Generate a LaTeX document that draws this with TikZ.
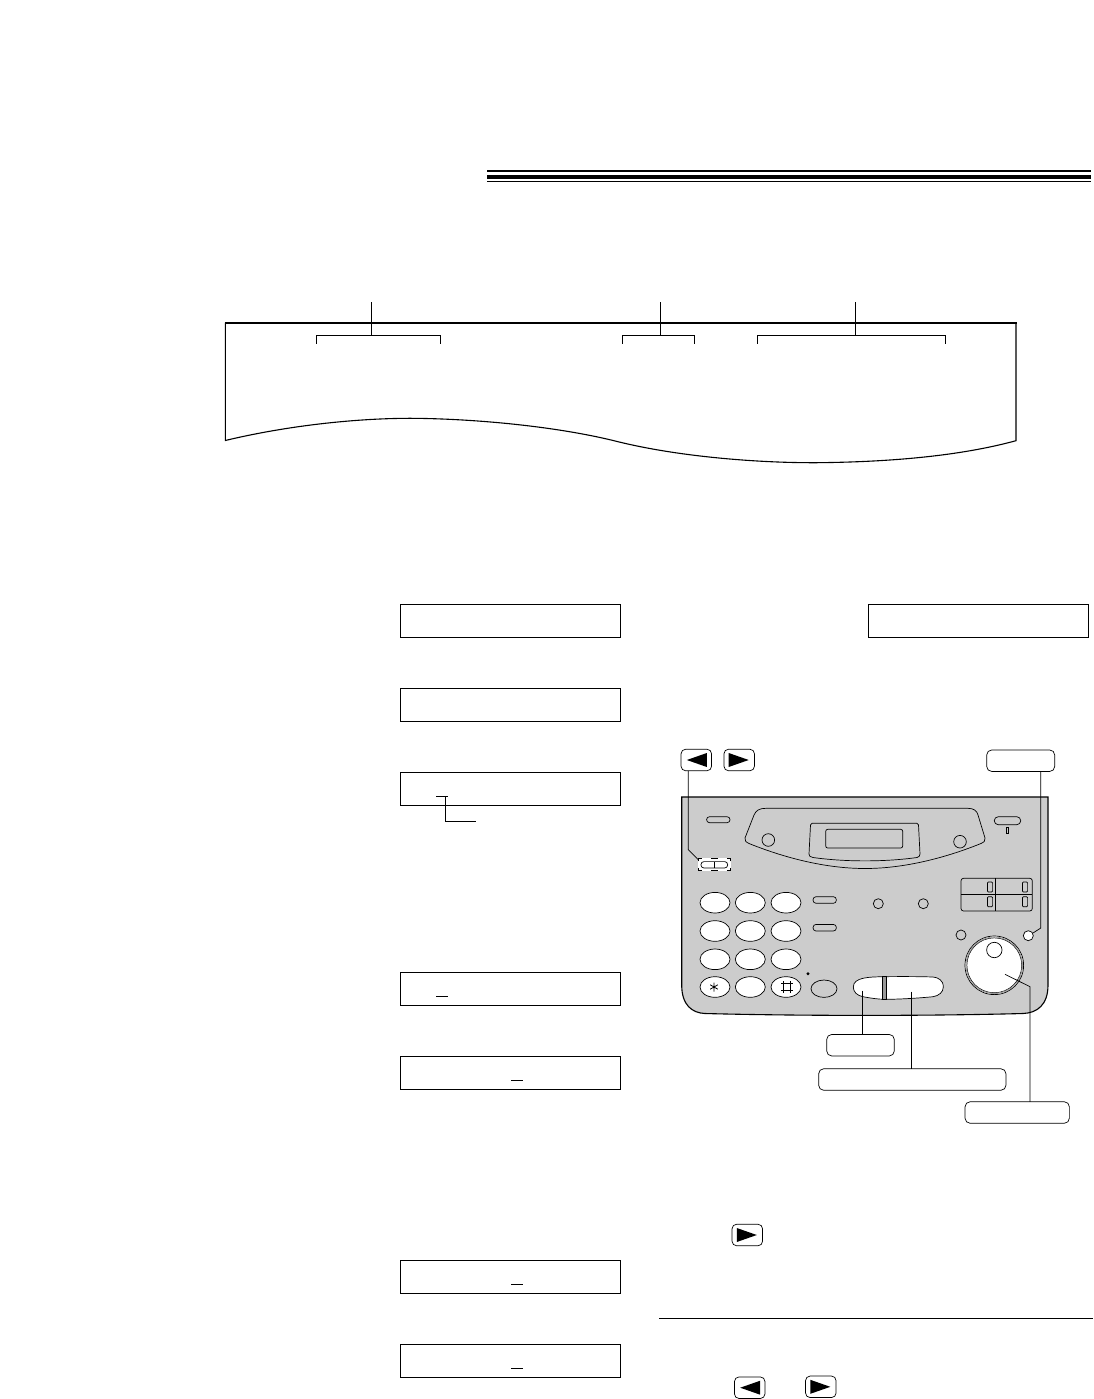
\documentclass[tikz,border=0pt]{standalone}
\usepackage{tikz}
\usetikzlibrary{positioning,calc,shapes.geometric}
\definecolor{panelgray}{HTML}{CCCCCC}
\definecolor{ringgray}{HTML}{999999}
\tikzset{
  lcdbox/.style={draw, line width=1pt, minimum width=220pt, minimum height=33.4pt, inner sep=0pt, outer sep=0pt},
  lblbox/.style={draw, fill=white, line width=0.7pt, rounded corners=5pt, minimum height=21.5pt, inner sep=0pt, outer sep=0pt},
  arrowkey/.style={lblbox, minimum width=30.5pt, rounded corners=4.5pt},
  dialkey/.style={ellipse, draw, fill=white, line width=0.7pt, minimum width=30pt, minimum height=20.6pt, inner sep=0pt, outer sep=0pt},
  slimkey/.style={draw, fill=panelgray, line width=0.7pt, rounded corners=3pt, inner sep=0pt, outer sep=0pt},
  lamp/.style={circle, draw, line width=0.7pt, minimum size=10pt, inner sep=0pt, outer sep=0pt},
  leader/.style={line width=0.7pt},
  cursorline/.style={line width=1pt}
}
\begin{document}
\begin{tikzpicture}[x=1pt, y=-1pt]
    \useasboundingbox (0,0) rectangle (1093,1399);

    % heading rule
    \fill (487,170) rectangle (1091,172);
    \fill (487,175) rectangle (1091,179);
    \fill (487,181) rectangle (1091,182);

    % sheet
    \draw[line width=1.1pt] (225.3,323) -- (225.3,440.5) .. controls (290,425) and (360,418) .. (414,418.3)
      .. controls (480,419) and (560,427) .. (618,441.7) .. controls (680,457) and (760,463) .. (817,462.7)
      .. controls (890,462) and (960,456) .. (1016,440.7) -- (1016,323);
    \draw[line width=2.4pt] (224.5,323) -- (1016.5,323);
    \foreach \first/\last/\stem in {316/440/371, 622/694/660, 757/945/855} {
      \draw[line width=0.8pt] (\first,343.5) -- (\first,335) -- (\last,335) -- (\last,343.5);
      \draw[line width=0.7pt] (\stem,302) -- (\stem,335);
    }

    % display boxes
    \node[lcdbox] (lcdA) at (510.5,621) {};
    \node[lcdbox] (lcdB) at (510.5,705) {};
    \node[lcdbox] (lcdC) at (510.5,789) {};
    \node[lcdbox] (lcdD) at (510.5,989) {};
    \node[lcdbox] (lcdE) at (510.5,1073) {};
    \node[lcdbox] (lcdF) at (510.5,1277) {};
    \node[lcdbox] (lcdG) at (510.5,1361) {};
    \node[lcdbox] (lcdH) at (978,621) {};
    \draw[cursorline] ([xshift=35.5pt,yshift=-7pt]lcdC.west) -- ++(12,0);
    \draw[cursorline] ([xshift=45pt,yshift=-7pt]lcdC.west) |- ([xshift=75.5pt,yshift=-32pt]lcdC.west);
    \foreach \lcd/\off in {lcdD/35.5, lcdE/110.5, lcdF/110.5, lcdG/110.5}
      \draw[cursorline] ([xshift=\off pt,yshift=-7pt]\lcd.west) -- ++(12,0);

    % panel
    \draw[fill=panelgray, line width=1.1pt] (681.7,797) -- (681.7,985) .. controls (681.7,1005) and (692,1013) .. (705,1013.5)
      .. controls (800,1016) and (930,1016) .. (1023,1013.5) .. controls (1037,1013) and (1048,1005) .. (1048,985) -- (1048,797) -- cycle;
    \node[slimkey, minimum width=23.5pt, minimum height=6pt] (memoKey) at (718.3,819.7) {};
    \node[slimkey, minimum width=26.5pt, minimum height=8pt, rounded corners=4pt] (autoKey) at (1007.5,820.7) {};
    \node[draw, line width=0.7pt, minimum width=2.6pt, minimum height=6pt, inner sep=0pt] (autoLed) at (1007.3,830.7) {};

    % display hood
    \draw[line width=0.7pt] (745,838) -- (754,815) .. controls (756,810) and (760,808.3) .. (766,808.3) -- (968,808.3)
      .. controls (974,808.3) and (977,811) .. (978,815) -- (985,838) .. controls (985.5,841) and (984,842) .. (981,843.5)
      .. controls (940,860) and (900,868.5) .. (865,868.5) .. controls (830,868.5) and (790,860) .. (749,843.5)
      .. controls (746,842) and (744.5,841) .. (745,838) -- cycle;
    \draw[line width=0.7pt] (812,823.3) -- (917,823.3) .. controls (918,823.3) and (918.5,824) .. (918.5,825) -- (920,854)
      .. controls (920,856) and (919,857) .. (917,857.5) .. controls (885,862) and (845,862) .. (813,857.5)
      .. controls (810,857) and (809,856) .. (809,854) -- (810.5,825) .. controls (810.5,824) and (811,823.3) .. (812,823.3) -- cycle;
    \draw[line width=0.7pt, rounded corners=2pt] (825.7,829.3) rectangle (902.7,848);
    \node[lamp, minimum size=12.6pt] (hoodLampL) at (768.3,840) {};
    \node[lamp, minimum size=12.6pt] (hoodLampR) at (960,841.7) {};

    % arrow pair on panel
    \node[fill=white, minimum width=32.5pt, minimum height=12.5pt, inner sep=0pt, outer sep=0pt] (navGuard) at (714.5,864.5) {};
    \draw[line width=0.7pt] ([yshift=-3pt]navGuard.north west) |- ([xshift=4pt]navGuard.north west);
    \draw[line width=0.7pt] ([yshift=-3pt]navGuard.north east) |- ([xshift=-4pt]navGuard.north east);
    \draw[line width=0.7pt] ([yshift=3pt]navGuard.south west) |- ([xshift=4pt]navGuard.south west);
    \draw[line width=0.7pt] ([yshift=3pt]navGuard.south east) |- ([xshift=-4pt]navGuard.south east);
    \draw[line width=0.7pt] ([xshift=-3.5pt]navGuard.north) -- ([xshift=3.5pt]navGuard.north);
    \draw[line width=0.7pt] ([xshift=-3.5pt]navGuard.south) -- ([xshift=3.5pt]navGuard.south);
    \node[slimkey, fill=white, minimum width=26.7pt, minimum height=6.4pt] (navKey) at (714.3,864.8) {};
    \draw[line width=0.7pt] (navKey.south) -- (navKey.north);

    % keypad
    \foreach \row/\cy in {1/902.7, 2/931, 3/959.3, 4/987}
      \foreach \col/\cx in {1/715, 2/750.3, 3/786}
        \node[dialkey] (key\row\col) at (\cx,\cy) {};
    \draw[line width=0.8pt] (714,982.5) -- (714,991.5) (710.2,984.8) -- (717.8,989.2) (710.2,989.2) -- (717.8,984.8);
    \draw[line width=0.8pt] (783.3,981) -- (783.3,993) (790,981) -- (790,993) (781,983.7) -- (792.5,983.7) (781,990.3) -- (792.5,990.3);
    \node[slimkey, minimum width=23.3pt, minimum height=6.6pt] (sideKeyA) at (824.7,900) {};
    \node[slimkey, minimum width=23.3pt, minimum height=6.6pt] (sideKeyB) at (824.7,927.7) {};
    \fill (808,973.7) circle (1.6);
    \node[ellipse, draw, line width=0.7pt, minimum width=26pt, minimum height=17.4pt, inner sep=0pt, outer sep=0pt] (pauseKey) at (824,988.7) {};
    \node[lamp] (lampA) at (878.3,903.7) {};
    \node[lamp] (lampB) at (923.3,903.7) {};
    \node[lamp] (lampC) at (961,935) {};
    \node[lamp, fill=white] (lampD) at (1028.3,935.7) {};

    % one touch grid
    \draw[line width=0.7pt, rounded corners=2.5pt] (961,878.3) rectangle (1032.3,911);
    \draw[line width=0.7pt] (961,894.3) -- (1032.3,894.3) (995.7,878.3) -- (995.7,911);
    \foreach \cx/\cy in {990/887, 1025/887, 990/901.7, 1025/901.7}
      \draw[line width=0.7pt, rounded corners=1pt] (\cx-2.6,\cy-5) rectangle (\cx+2.6,\cy+5);

    % dial
    \node[circle, draw, fill=white, line width=0.7pt, minimum size=58.6pt, inner sep=0pt, outer sep=0pt] (knob) at (994.3,965.3) {};
    \draw[ringgray, line width=0.8pt] (knob.center) circle (28.3);
    \draw[line width=0.5pt] (knob.center) circle (27.4);
    \node[circle, draw, line width=0.7pt, minimum size=15.4pt, inner sep=0pt, outer sep=0pt] (knobDot) at (994.3,950) {};

    % start and stop bar
    \draw[fill=white, line width=0.7pt] (883,976.7) .. controls (870,977) and (853.3,977) .. (853.3,987)
      .. controls (853.3,992) and (857,995.5) .. (863,996.7) .. controls (870,998) and (878,999.3) .. (885,999.3)
      .. controls (900,999.3) and (920,998) .. (933,996.7) .. controls (939,995.8) and (943.3,992) .. (943.3,987)
      .. controls (943.3,980) and (938,977.5) .. (933,977) .. controls (918,976.5) and (900,976.5) .. (883,976.7) -- cycle;
    \draw[fill=ringgray, line width=0.7pt] (882.3,976.7) rectangle (886.7,999.3);

    % key pictures and labels
    \node[arrowkey] (keyPrev) at (696.3,760) {};
    \node[arrowkey] (keyNext) at (739.2,760) {};
    \node[lblbox, minimum width=68pt] (lblLamp) at (1020.7,760.7) {};
    \node[lblbox, minimum width=67.6pt] (lblStop) at (860.5,1045.2) {};
    \node[lblbox, minimum width=187.3pt] (lblStart) at (912.3,1079.5) {};
    \node[lblbox, minimum width=104.3pt] (lblDial) at (1017.2,1112.5) {};
    \node[arrowkey] (keyNextA) at (747.3,1235) {};
    \node[arrowkey] (keyPrevB) at (749.7,1387.7) {};
    \node[arrowkey] (keyNextB) at (820.8,1386.8) {};
    \foreach \key in {keyPrev, keyPrevB}
      \fill ([xshift=10.5pt,yshift=7pt]\key.center) -- ([xshift=-9.5pt]\key.center) -- ([xshift=10.5pt,yshift=-7pt]\key.center) -- cycle;
    \foreach \key in {keyNext, keyNextA, keyNextB}
      \fill ([xshift=-10.5pt,yshift=7pt]\key.center) -- ([xshift=9.5pt]\key.center) -- ([xshift=-10.5pt,yshift=-7pt]\key.center) -- cycle;

    % leaders
    \coordinate (stopSpot) at (862.3,990.7);
    \coordinate (startSpot) at (911.3,991.7);
    \coordinate (dialSpot) at (1005,974.3);
    \coordinate (dialBend) at (1030,986.7);
    \draw[leader] ([xshift=-8pt]keyPrev.south) -- ++(0,79) -- ([yshift=-1.5pt]navGuard.north west);
    \draw[leader] ([xshift=20pt]lblLamp.south) -- ++(0,156.6) -- (lampD.30);
    \draw[leader] (stopSpot) -- (stopSpot |- lblStop.north);
    \draw[leader] (startSpot) -- (startSpot |- lblStart.north);
    \draw[leader] (dialSpot) -- (dialBend) -- (dialBend |- lblDial.north);

    % rule above last step
    \draw[line width=1pt] (659,1318) -- (1093,1318);
  \end{tikzpicture}
\end{document}
